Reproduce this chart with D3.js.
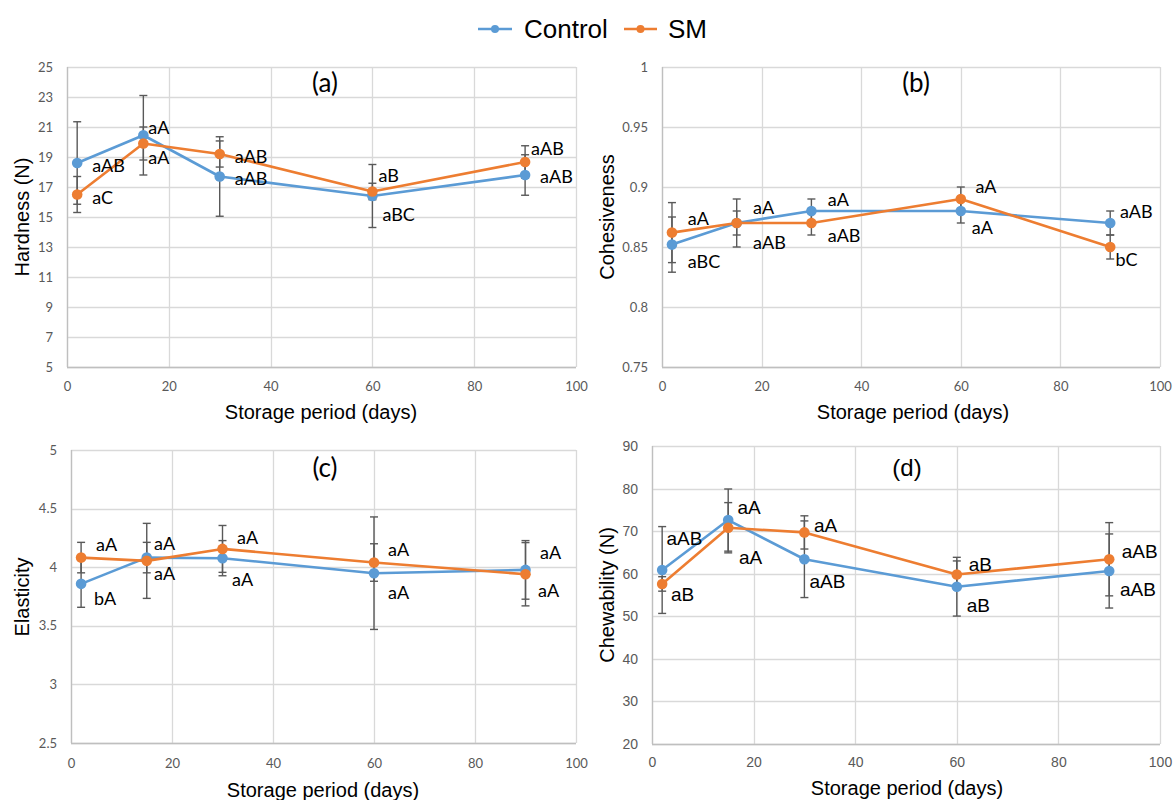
<!DOCTYPE html>
<html>
<head>
<meta charset="utf-8">
<script src="https://cdn.jsdelivr.net/npm/d3@7"></script>
<style>
  html, body { margin: 0; padding: 0; background: #ffffff; }
  svg { display: block; }
</style>
</head>
<body>
<svg id="chart" width="1174" height="800"></svg>
<script>
// ---------------- DATA ----------------
const days = [2, 15, 30, 60, 90];
const seriesNames = ["Control", "SM"];
const xTicks = [0, 20, 40, 60, 80, 100];

// (a) Hardness (N)
const hardnessControl = [18.6, 20.45, 17.7, 16.4, 17.8];
const hardnessSM = [16.5, 19.9, 19.2, 16.7, 18.67];
const hardnessControlErr = [2.75, 2.65, 2.65, 2.1, 1.35];
const hardnessSMErr = [1.2, 1.1, 0.87, 0.55, 1.08];
const hardnessControlLabels = ["aAB", "aA", "aAB", "aBC", "aAB"];
const hardnessSMLabels = ["aC", "aA", "aAB", "aB", "aAB"];
const hardnessTicks = [5, 7, 9, 11, 13, 15, 17, 19, 21, 23, 25];

// (b) Cohesiveness
const cohesivenessControl = [0.852, 0.87, 0.88, 0.88, 0.87];
const cohesivenessSM = [0.862, 0.87, 0.87, 0.89, 0.85];
const cohesivenessControlErr = [0.023, 0.02, 0.01, 0.01, 0.01];
const cohesivenessSMErr = [0.025, 0.01, 0.01, 0.01, 0.01];
const cohesivenessControlLabels = ["aBC", "aA", "aA", "aA", "aAB"];
const cohesivenessSMLabels = ["aA", "aAB", "aAB", "aA", "bC"];
const cohesivenessTicks = [0.75, 0.8, 0.85, 0.9, 0.95, 1];

// (c) Elasticity
const elasticityControl = [3.858, 4.082, 4.077, 3.949, 3.977];
const elasticitySM = [4.082, 4.054, 4.156, 4.04, 3.94];
const elasticityControlErr = [0.2, 0.13, 0.15, 0.48, 0.25];
const elasticitySMErr = [0.13, 0.32, 0.2, 0.16, 0.27];
const elasticityControlLabels = ["bA", "aA", "aA", "aA", "aA"];
const elasticitySMLabels = ["aA", "aA", "aA", "aA", "aA"];
const elasticityTicks = [2.5, 3, 3.5, 4, 4.5, 5];

// (d) Chewability (N)
const chewabilityControl = [60.87, 72.6, 63.4, 56.95, 60.64];
const chewabilitySM = [57.6, 70.8, 69.7, 59.8, 63.4];
const chewabilityControlErr = [10.2, 7.3, 9.0, 6.9, 8.7];
const chewabilitySMErr = [1.7, 5.9, 3.9, 3.2, 8.6];
const chewabilityControlLabels = ["aAB", "aA", "aAB", "aB", "aAB"];
const chewabilitySMLabels = ["aB", "aA", "aA", "aB", "aAB"];
const chewabilityTicks = [20, 30, 40, 50, 60, 70, 80, 90];

// ---------------- LAYOUT / STYLE ----------------
const COLORS = { Control: "#5B9BD5", SM: "#ED7D31" };
const CAL = "Lato, 'Open Sans', sans-serif";
const ARI = "'Liberation Sans', Arial, sans-serif";

// label offsets (pixels from the point: [dx, dy])
const offA = {
  Control: [[15, 2], [5, -8.5], [15, 1.5], [10, 18], [15, 1]],
  SM: [[15, 2], [5, 13.5], [15, 2], [6, -16.5], [6, -14]]
};
const offB = {
  Control: [[15.8, 16.1], [16.3, -15.7], [16.3, -12], [11, 15.7], [9.7, -12]],
  SM: [[15.8, -14.3], [16.3, 19.3], [16.3, 12], [14.6, -13], [5.2, 12]]
};
const offC = {
  Control: [[13, 14], [7.3, -15], [9.5, 20.7], [14, 18.4], [14.5, -18.3]],
  SM: [[15, -13.4], [7.3, 12.3], [14.5, -12.3], [14, -13.7], [12.5, 15.6]]
};
const offD = {
  Control: [[4.3, -31.7], [9.2, -12.4], [5, 22.5], [10, 19], [10.8, 18.3]],
  SM: [[8.8, 10.3], [10.8, 29.6], [9.6, -6.7], [12, -9.6], [12.5, -7.5]]
};

const panels = [
  { tag: "(a)", ytitle: "Hardness (N)", ticks: hardnessTicks, fmt: d => d,
    ctrl: hardnessControl, sm: hardnessSM, ctrlErr: hardnessControlErr, smErr: hardnessSMErr,
    ctrlLab: hardnessControlLabels, smLab: hardnessSMLabels, off: offA,
    box: { l: 67, r: 576, t: 67, b: 367 }, font: CAL, tickSize: 13, labSize: 18, tagSize: 26,
    tagPos: [325, 82], ytPos: [22, 217], xtPos: [321, 412], xTickY: 386, yTickGap: 14 },
  { tag: "(b)", ytitle: "Cohesiveness", ticks: cohesivenessTicks, fmt: d => d,
    ctrl: cohesivenessControl, sm: cohesivenessSM, ctrlErr: cohesivenessControlErr, smErr: cohesivenessSMErr,
    ctrlLab: cohesivenessControlLabels, smLab: cohesivenessSMLabels, off: offB,
    box: { l: 662, r: 1160, t: 67, b: 367 }, font: CAL, tickSize: 13, labSize: 18, tagSize: 26,
    tagPos: [916, 82], ytPos: [607, 217], xtPos: [913, 412], xTickY: 386, yTickGap: 14 },
  { tag: "(c)", ytitle: "Elasticity", ticks: elasticityTicks, fmt: d => d,
    ctrl: elasticityControl, sm: elasticitySM, ctrlErr: elasticityControlErr, smErr: elasticitySMErr,
    ctrlLab: elasticityControlLabels, smLab: elasticitySMLabels, off: offC,
    box: { l: 71, r: 576, t: 450, b: 743 }, font: CAL, tickSize: 13, labSize: 18, tagSize: 26,
    tagPos: [325, 467], ytPos: [22, 597], xtPos: [323, 790], xTickY: 763, yTickGap: 14 },
  { tag: "(d)", ytitle: "Chewability (N)", ticks: chewabilityTicks, fmt: d => d,
    ctrl: chewabilityControl, sm: chewabilitySM, ctrlErr: chewabilityControlErr, smErr: chewabilitySMErr,
    ctrlLab: chewabilityControlLabels, smLab: chewabilitySMLabels, off: offD,
    box: { l: 652, r: 1160, t: 446, b: 744 }, font: ARI, tickSize: 14, labSize: 19, tagSize: 24,
    tagPos: [907, 467], ytPos: [607, 595], xtPos: [907, 788], xTickY: 762, yTickGap: 14 }
];

const svg = d3.select("#chart");

function drawPanel(p) {
  const x = d3.scaleLinear().domain([0, 100]).range([p.box.l, p.box.r]);
  const y = d3.scaleLinear().domain([p.ticks[0], p.ticks[p.ticks.length - 1]]).range([p.box.b, p.box.t]);
  const g = svg.append("g");

  // gridlines
  g.append("g").selectAll("line.h").data(p.ticks).join("line")
    .attr("x1", p.box.l).attr("x2", p.box.r)
    .attr("y1", d => Math.round(y(d)) + 0.5).attr("y2", d => Math.round(y(d)) + 0.5)
    .attr("stroke", "#d9d9d9").attr("stroke-width", 1.3);
  g.append("g").selectAll("line.v").data(xTicks).join("line")
    .attr("x1", d => Math.round(x(d)) + 0.5).attr("x2", d => Math.round(x(d)) + 0.5)
    .attr("y1", p.box.t).attr("y2", p.box.b)
    .attr("stroke", "#d9d9d9").attr("stroke-width", 1.3);
  // axis lines (left / bottom a little darker)
  g.append("line").attr("x1", p.box.l + 0.5).attr("x2", p.box.l + 0.5)
    .attr("y1", p.box.t).attr("y2", p.box.b).attr("stroke", "#bfbfbf").attr("stroke-width", 1.3);
  g.append("line").attr("x1", p.box.l).attr("x2", p.box.r)
    .attr("y1", p.box.b + 0.5).attr("y2", p.box.b + 0.5).attr("stroke", "#bfbfbf").attr("stroke-width", 1.3);

  // y axis tick labels via d3 axis
  const yAxis = d3.axisLeft(y).tickValues(p.ticks).tickFormat(p.fmt).tickSize(0).tickPadding(p.yTickGap);
  const ya = g.append("g").attr("transform", `translate(${p.box.l},0)`).call(yAxis);
  ya.select(".domain").remove();
  ya.selectAll("text").attr("fill", "#595959").style("font-family", p.font).style("font-size", p.tickSize + "px");

  // x axis tick labels
  const xAxis = d3.axisBottom(x).tickValues(xTicks).tickSize(0).tickPadding(0);
  const xa = g.append("g").attr("transform", `translate(0,${p.xTickY})`).call(xAxis);
  xa.select(".domain").remove();
  xa.selectAll("text").attr("fill", "#595959").attr("dy", "0.35em")
    .style("font-family", p.font).style("font-size", p.tickSize + "px");

  // axis titles
  g.append("text").attr("x", p.xtPos[0]).attr("y", p.xtPos[1]).attr("text-anchor", "middle")
    .attr("dominant-baseline", "central").style("font-family", ARI).style("font-size", "20px")
    .attr("fill", "#000").text("Storage period (days)");
  g.append("text").attr("transform", `translate(${p.ytPos[0]},${p.ytPos[1]}) rotate(-90)`)
    .attr("text-anchor", "middle").attr("dominant-baseline", "central")
    .style("font-family", ARI).style("font-size", "20px").attr("fill", "#000").text(p.ytitle);

  // panel tag
  g.append("text").attr("x", p.tagPos[0]).attr("y", p.tagPos[1]).attr("text-anchor", "middle")
    .attr("dominant-baseline", "central").style("font-family", p.font).style("font-size", p.tagSize + "px")
    .attr("fill", "#000").text(p.tag);

  const series = [
    { name: "Control", vals: p.ctrl, err: p.ctrlErr, lab: p.ctrlLab },
    { name: "SM", vals: p.sm, err: p.smErr, lab: p.smLab }
  ];

  // error bars
  series.forEach(s => {
    const eb = g.append("g").attr("stroke", "#595959").attr("stroke-width", 1.4);
    const rows = days.map((d, i) => ({ d, v: s.vals[i], e: s.err[i] }));
    eb.selectAll("line.bar").data(rows).join("line")
      .attr("x1", r => x(r.d)).attr("x2", r => x(r.d))
      .attr("y1", r => y(r.v - r.e)).attr("y2", r => y(r.v + r.e));
    eb.selectAll("line.capT").data(rows).join("line")
      .attr("x1", r => x(r.d) - 4).attr("x2", r => x(r.d) + 4)
      .attr("y1", r => y(r.v + r.e)).attr("y2", r => y(r.v + r.e));
    eb.selectAll("line.capB").data(rows).join("line")
      .attr("x1", r => x(r.d) - 4).attr("x2", r => x(r.d) + 4)
      .attr("y1", r => y(r.v - r.e)).attr("y2", r => y(r.v - r.e));
  });

  // lines and markers
  series.forEach(s => {
    const rows = days.map((d, i) => ({ d, v: s.vals[i] }));
    const line = d3.line().x(r => x(r.d)).y(r => y(r.v));
    g.append("path").datum(rows).attr("d", line).attr("fill", "none")
      .attr("stroke", COLORS[s.name]).attr("stroke-width", 2.6).attr("stroke-linejoin", "round");
    g.append("g").selectAll("circle").data(rows).join("circle")
      .attr("cx", r => x(r.d)).attr("cy", r => y(r.v)).attr("r", 5.3)
      .attr("fill", COLORS[s.name]);
  });

  // data labels
  series.forEach(s => {
    const rows = days.map((d, i) => ({ d, v: s.vals[i], t: s.lab[i], o: p.off[s.name][i] }));
    g.append("g").selectAll("text").data(rows).join("text")
      .attr("x", r => x(r.d) + r.o[0]).attr("y", r => y(r.v) + r.o[1])
      .attr("dominant-baseline", "central")
      .style("font-family", p.font).style("font-size", p.labSize + "px")
      .attr("fill", "#000").text(r => r.t);
  });
}

panels.forEach(drawPanel);

// legend
const legendItems = [
  { name: "Control", x0: 478, x1: 512, tx: 524 },
  { name: "SM", x0: 624, x1: 657, tx: 668 }
];
const lg = svg.append("g");
legendItems.forEach(it => {
  lg.append("line").attr("x1", it.x0).attr("x2", it.x1).attr("y1", 29).attr("y2", 29)
    .attr("stroke", COLORS[it.name]).attr("stroke-width", 2.6);
  lg.append("circle").attr("cx", (it.x0 + it.x1) / 2).attr("cy", 29).attr("r", 4)
    .attr("fill", COLORS[it.name]);
  lg.append("text").attr("x", it.tx).attr("y", 29).attr("dominant-baseline", "central")
    .style("font-family", ARI).style("font-size", "26px").attr("fill", "#000").text(it.name);
});
</script>
</body>
</html>
